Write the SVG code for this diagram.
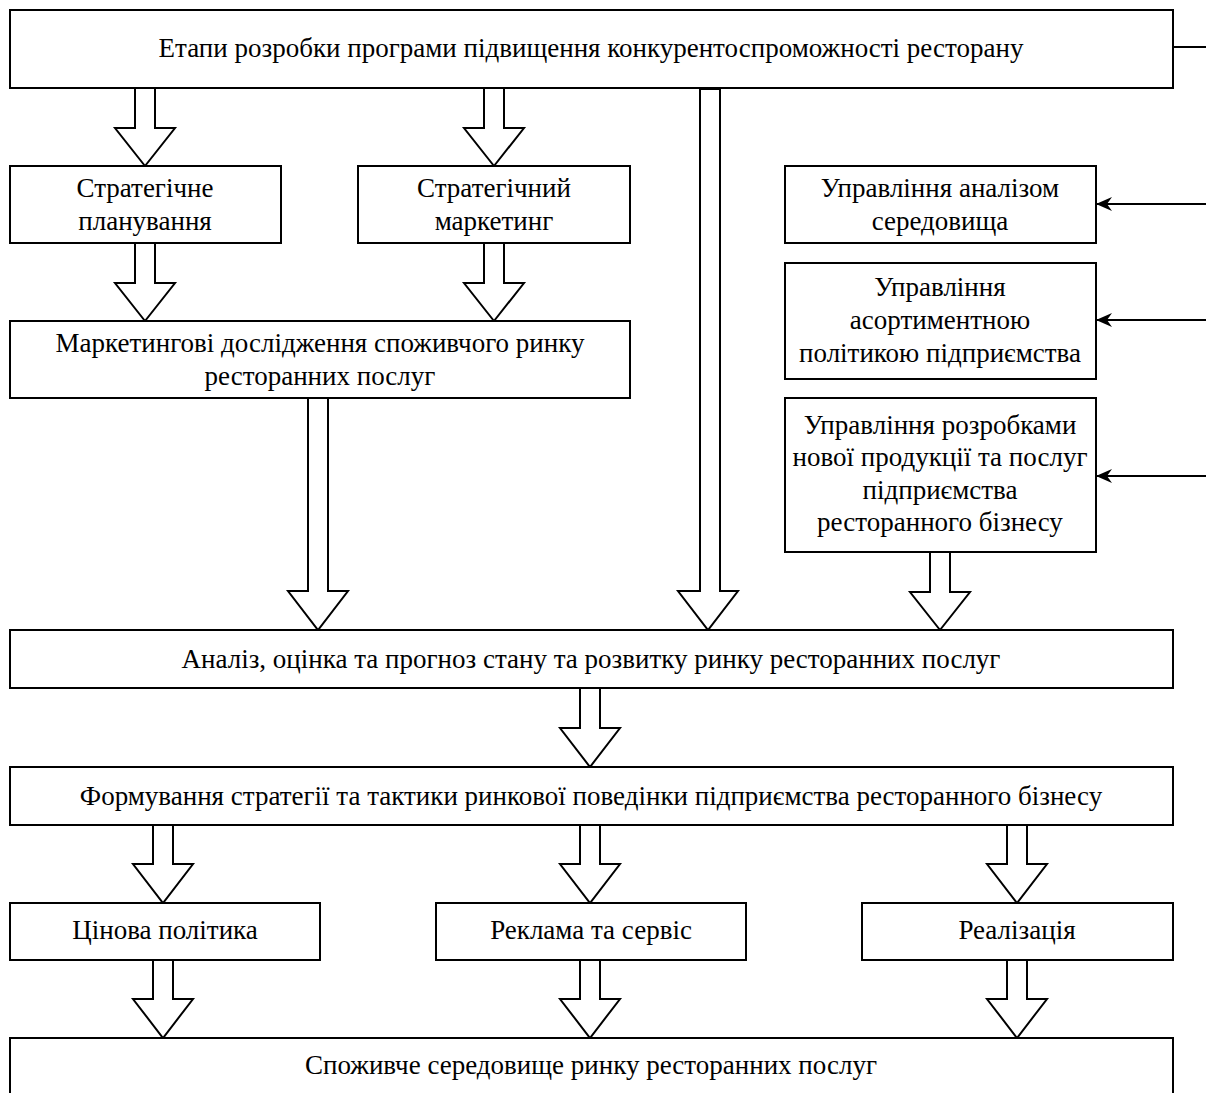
<svg xmlns="http://www.w3.org/2000/svg" width="1206" height="1093" viewBox="0 0 1206 1093">
<style>
.box{fill:#fff;stroke:#000;stroke-width:2}
.t{font-family:"Liberation Serif","Times New Roman",serif;font-size:27px;fill:#000;text-anchor:middle}
.ba{fill:#fff;stroke:#000;stroke-width:2;stroke-linejoin:miter}
.ln{stroke:#000;stroke-width:2;fill:none}
</style>
<defs>
<marker id="ah" markerWidth="16" markerHeight="14" refX="15" refY="7" orient="auto" markerUnits="userSpaceOnUse">
<path d="M0,0 L16,7 L0,14 L5,7 Z" fill="#000"/>
</marker>
</defs>
<rect width="1206" height="1093" fill="#fff"/>
<g id="connectors">
<line class="ln" x1="1173" y1="47" x2="1206" y2="47"/>
<line class="ln" x1="1206" y1="204" x2="1097" y2="204" marker-end="url(#ah)"/>
<line class="ln" x1="1206" y1="320" x2="1097" y2="320" marker-end="url(#ah)"/>
<line class="ln" x1="1206" y1="476" x2="1097" y2="476" marker-end="url(#ah)"/>
<polygon class="ba" points="135,88 135,128 115,128 145,166 175,128 155,128 155,88"/>
<polygon class="ba" points="484,88 484,128 464,128 494,166 524,128 504,128 504,88"/>
<polygon class="ba" points="135,243 135,283 115,283 145,321 175,283 155,283 155,243"/>
<polygon class="ba" points="484,243 484,283 464,283 494,321 524,283 504,283 504,243"/>
<polygon class="ba" points="308,398 308,591 288,591 318,630 348,591 328,591 328,398"/>
<polygon class="ba" points="700,89 700,591 678,591 708,630 738,591 720,591 720,89"/>
<polygon class="ba" points="930,552 930,592 910,592 940,630 970,592 950,592 950,552"/>
<polygon class="ba" points="580,688 580,728 560,728 590,767 620,728 600,728 600,688"/>
<polygon class="ba" points="153,825 153,864 133,864 163,903 193,864 173,864 173,825"/>
<polygon class="ba" points="580,825 580,864 560,864 590,903 620,864 600,864 600,825"/>
<polygon class="ba" points="1007,825 1007,864 987,864 1017,903 1047,864 1027,864 1027,825"/>
<polygon class="ba" points="153,960 153,999 133,999 163,1038 193,999 173,999 173,960"/>
<polygon class="ba" points="580,960 580,999 560,999 590,1038 620,999 600,999 600,960"/>
<polygon class="ba" points="1007,960 1007,999 987,999 1017,1038 1047,999 1027,999 1027,960"/>
</g>
<g id="n-top"><rect class="box" x="10" y="10" width="1163" height="78"/><text class="t" x="591" y="57">Етапи розробки програми підвищення конкурентоспроможності ресторану</text></g>
<g id="n-sp"><rect class="box" x="10" y="166" width="271" height="77"/><text class="t" x="145" y="197">Стратегічне</text><text class="t" x="145" y="230">планування</text></g>
<g id="n-sm"><rect class="box" x="358" y="166" width="272" height="77"/><text class="t" x="494" y="197">Стратегічний</text><text class="t" x="494" y="230">маркетинг</text></g>
<g id="n-ua"><rect class="box" x="785" y="166" width="311" height="77"/><text class="t" x="940" y="197">Управління аналізом</text><text class="t" x="940" y="230">середовища</text></g>
<g id="n-uas"><rect class="box" x="785" y="263" width="311" height="116"/><text class="t" x="940" y="296">Управління</text><text class="t" x="940" y="329">асортиментною</text><text class="t" x="940" y="362">політикою підприємства</text></g>
<g id="n-ur"><rect class="box" x="785" y="398" width="311" height="154"/><text class="t" x="940" y="434">Управління розробками</text><text class="t" x="940" y="466">нової продукції та послуг</text><text class="t" x="940" y="499">підприємства</text><text class="t" x="940" y="531">ресторанного бізнесу</text></g>
<g id="n-md"><rect class="box" x="10" y="321" width="620" height="77"/><text class="t" x="320" y="352">Маркетингові дослідження споживчого ринку</text><text class="t" x="320" y="385">ресторанних послуг</text></g>
<g id="n-an"><rect class="box" x="10" y="630" width="1163" height="58"/><text class="t" x="591" y="668">Аналіз, оцінка та прогноз стану та розвитку ринку ресторанних послуг</text></g>
<g id="n-fs"><rect class="box" x="10" y="767" width="1163" height="58"/><text class="t" x="591" y="805">Формування стратегії та тактики ринкової поведінки підприємства ресторанного бізнесу</text></g>
<g id="n-cp"><rect class="box" x="10" y="903" width="310" height="57"/><text class="t" x="165" y="939">Цінова політика</text></g>
<g id="n-rs"><rect class="box" x="436" y="903" width="310" height="57"/><text class="t" x="591" y="939">Реклама та сервіс</text></g>
<g id="n-re"><rect class="box" x="862" y="903" width="311" height="57"/><text class="t" x="1017" y="939">Реалізація</text></g>
<g id="n-sc"><rect class="box" x="10" y="1038" width="1163" height="70"/><text class="t" x="591" y="1074">Споживче середовище ринку ресторанних послуг</text></g>
</svg>
